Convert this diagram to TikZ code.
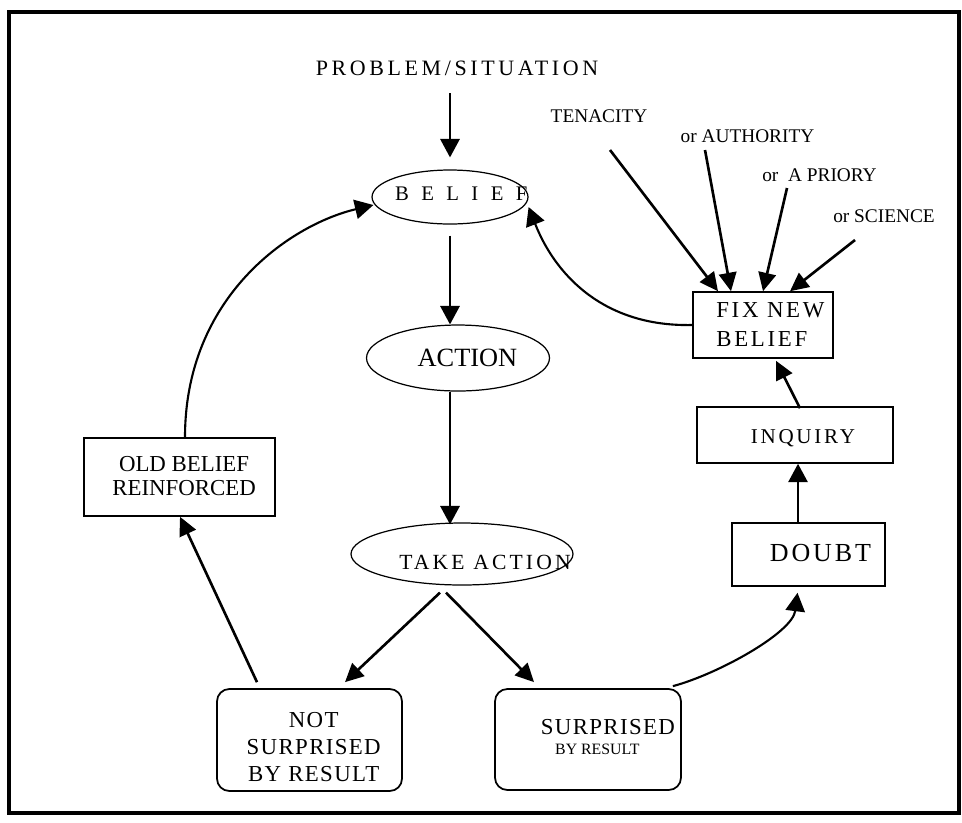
\documentclass[tikz,border=0pt]{standalone}
\usepackage{fontspec}
\setmainfont{Liberation Serif}
\usetikzlibrary{shapes.geometric,arrows.meta,calc}
\newcommand\lsp[2]{{\addfontfeatures{LetterSpace=#1}#2}}
\newcommand\fsz[2]{\fontsize{#1}{#2}\selectfont}
\newcommand\placetext[3]{\raisebox{#2}[0pt][0pt]{\makebox[0pt]{\kern#1\relax #3\kern-#1\relax}}}
\begin{document}
\begin{tikzpicture}[x=0.02cm,y=-0.02cm,
  ell/.style={ellipse, draw, line width=0.7pt, inner sep=0pt},
  box/.style={rectangle, draw, line width=0.9pt, inner sep=0pt},
  rbox/.style={rectangle, draw, line width=1pt, rounded corners=7pt, inner sep=0pt},
  lbl/.style={anchor=base, inner sep=0pt, font=\fsz{11}{13}},
  arr/.style={-{Triangle[length=10.5pt,width=11pt]}, line width=1.2pt},
  arrB/.style={-{Triangle[length=10.5pt,width=10pt]}, line width=1.5pt}]
\useasboundingbox (0,0) rectangle (962,822);
\draw[line width=2.8pt] (9,12) rectangle (959,813);

% texts
\node[anchor=base, inner sep=0pt, font=\fsz{12.5}{15}] (prob) at (457,75) {\lsp{16.5}{PROBLEM/SITUATION}};
\node[lbl] (ten) at (599,122) {TENACITY};
\node[lbl] (auth) at (747.5,142) {or AUTHORITY};
\node[lbl] (apr) at (819.5,181) {or\ \ A PRIORY};
\node[lbl] (sci) at (884,222) {or SCIENCE};

% shapes
\node[ell, minimum width=3.12cm, minimum height=1.08cm] (belief) at (450,197)
  {\placetext{6.4pt}{-1.9pt}{\fsz{11.8}{13}\lsp{60}{BELIEF}}};
\node[ell, minimum width=3.66cm, minimum height=1.32cm] (action) at (458,358)
  {\placetext{5.4pt}{-5.1pt}{\fsz{15}{18}ACTION}};
\node[ell, minimum width=4.44cm, minimum height=1.24cm] (take) at (462,554)
  {\placetext{13.1pt}{-8.7pt}{\fsz{12.3}{15}\lsp{14.6}{TAKE ACTION}}};
\node[rbox, minimum width=3.7cm, minimum height=2.04cm] (notsur) at (309.5,740)
  {\placetext{2.4pt}{7.4pt}{\fsz{13}{15.6}\lsp{6}{\begin{tabular}[t]{@{}c@{}}NOT\\SURPRISED\\BY RESULT\end{tabular}}}};
\node[rbox, minimum width=3.72cm, minimum height=2.02cm] (sur) at (588,739.5)
  {\placetext{11.3pt}{2.6pt}{\fsz{13}{11.3}\begin{tabular}[t]{@{}c@{}}\lsp{6}{SURPRISED}\\ \fsz{9}{11}BY RESULT\hspace*{12pt}\end{tabular}}};
\node[box, minimum width=3.82cm, minimum height=1.56cm] (old) at (179.5,477)
  {\placetext{2.6pt}{3pt}{\fsz{13}{13.8}\begin{tabular}[t]{@{}c@{}}OLD BELIEF\\REINFORCED\end{tabular}}};
\node[box, minimum width=2.8cm, minimum height=1.32cm] (fix) at (763,325)
  {\placetext{4.2pt}{4pt}{\fsz{13}{16.4}\lsp{12}{\begin{tabular}[t]{@{}l@{}}FIX NEW\\BELIEF\end{tabular}}}};
\node[box, minimum width=3.92cm, minimum height=1.12cm] (inq) at (795,435)
  {\placetext{4.5pt}{-4.7pt}{\fsz{12}{14}\lsp{13}{INQUIRY}}};
\node[box, minimum width=3.06cm, minimum height=1.26cm] (doubt) at (808.5,554.5)
  {\placetext{6.8pt}{-4.1pt}{\fsz{14.8}{17}\lsp{11}{DOUBT}}};

% connectors
\draw[arr] ($(belief.north |- prob.base)+(0,18)$) -- ($(belief.north)+(0,-12)$);
\draw[arr] ($(belief.south)+(0,11)$) -- (belief.south |- action.north);
\draw[arr] (belief.south |- action.south) -- ($(belief.south |- take.north)+(0,2)$);
\draw[arrB] ($(take.south)+(-22,7)$) -- ($(notsur.north)+(35.5,-6)$);
\draw[arrB] ($(take.south)+(-16,7)$) -- ($(sur.north)+(-54,-6)$);
\draw[arrB] ($(notsur.north)+(-52.5,-6)$) -- ($(old.south)+(0.5,0)$);
\draw[arr] ($(old.north)+(5.5,0)$) .. controls +(0,-140) and +(-84,20) .. ($(belief.west)+(2,8)$);
\draw[arr] (fix.west) .. controls +(-92,2) and +(25,64) .. ($(belief.east)+(0,10)$);
\draw[arrB] ($(ten.base)+(11,28)$) -- ($(fix.north)+(-45,0)$);
\draw[arrB] ($(auth.base)+(-42.5,8)$) -- ($(fix.north)+(-32,0)$);
\draw[arrB] ($(apr.base)+(-32.5,7)$) -- (fix.north);
\draw[arrB] ($(sci.base)+(-29,18)$) -- ($(fix.north)+(27,0)$);
\draw[arrB] ($(inq.north)+(5,2)$) -- ($(fix.south)+(13,2)$);
\draw[arr] ($(doubt.north)+(-10.5,0)$) -- ($(inq.south)+(3,0)$);
\draw[arr] ($(sur.north east)+(-9,-2)$) .. controls +(45,-12) and +(-5,40) .. ($(doubt.south)+(-11,6)$);
\end{tikzpicture}
\end{document}
